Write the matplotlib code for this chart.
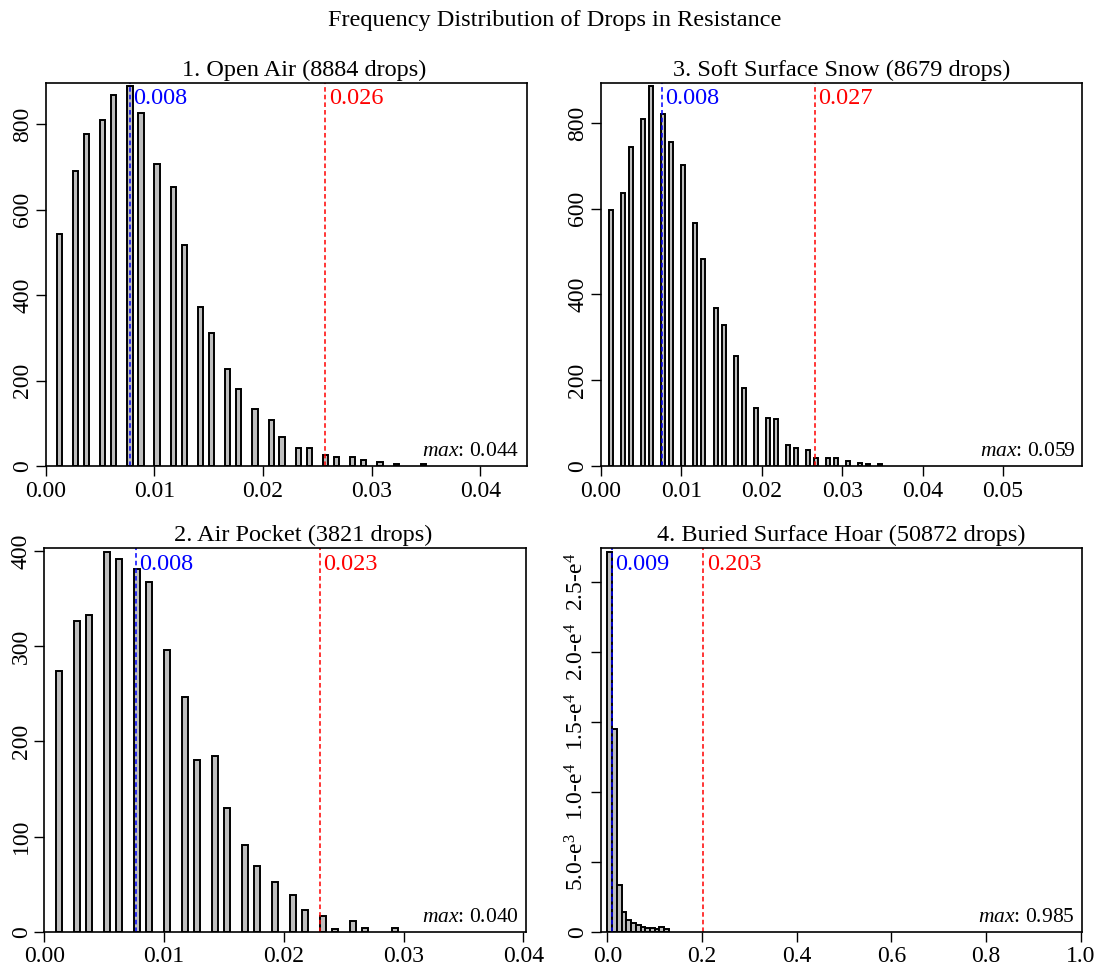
import matplotlib
matplotlib.use("Agg")
import matplotlib.pyplot as plt
import numpy as np

plt.rcParams['font.family'] = ['Liberation Serif', 'DejaVu Serif']
plt.rcParams['mathtext.fontset'] = 'custom'
plt.rcParams['mathtext.rm'] = 'Liberation Serif'
plt.rcParams['mathtext.it'] = 'Liberation Serif:italic'

# Panel 1: Open Air (bin centres, counts)
open_air_x = [0.00125, 0.00275, 0.00375, 0.00525, 0.00625, 0.00775, 0.00875,
              0.01025, 0.01175, 0.01275, 0.01425, 0.01525, 0.01675, 0.01775,
              0.01925, 0.02075, 0.02175, 0.02325, 0.02425, 0.02575, 0.02675,
              0.02825, 0.02925, 0.03075, 0.03225, 0.03475]
open_air_n = [543, 690, 777, 810, 867, 888, 827, 706, 653, 517, 373, 312, 228,
              181, 134, 108, 69, 43, 43, 25, 22, 20, 13, 10, 5, 5]

# Panel 2: Air Pocket
air_pocket_x = [0.00125, 0.00275, 0.00375, 0.00525, 0.00625, 0.00775, 0.00875,
                0.01025, 0.01175, 0.01275, 0.01425, 0.01525, 0.01675, 0.01775,
                0.01925, 0.02075, 0.02175, 0.02325, 0.02425, 0.02575, 0.02675,
                0.02925]
air_pocket_n = [274, 327, 333, 399, 392, 381, 368, 296, 247, 180, 185, 130, 91,
                69, 52, 39, 23, 16, 3, 11, 4, 4]

# Panel 3: Soft Surface Snow
soft_snow_x = [0.00125, 0.00275, 0.00375, 0.00525, 0.00625, 0.00775, 0.00875,
               0.01025, 0.01175, 0.01275, 0.01425, 0.01525, 0.01675, 0.01775,
               0.01925, 0.02075, 0.02175, 0.02325, 0.02425, 0.02575, 0.02675,
               0.02825, 0.02925, 0.03075, 0.03225, 0.03325, 0.03475]
soft_snow_n = [596, 637, 744, 809, 885, 821, 756, 702, 567, 482, 368, 328, 256,
               183, 136, 113, 109, 50, 41, 37, 19, 19, 19, 12, 6, 5, 5]

# Panel 4: Buried Surface Hoar (bins of 0.01)
hoar_x = [0.005, 0.015, 0.025, 0.035, 0.045, 0.055, 0.065, 0.075, 0.085,
          0.095, 0.105, 0.115, 0.125]
hoar_n = [27100, 14480, 3330, 1400, 830, 640, 480, 360, 290, 240, 220, 300, 180]

panels = [
    dict(title="1. Open Air (8884 drops)", x=open_air_x, n=open_air_n, w=0.0005,
         xlim=(0, 0.04425), xticks=[0, 0.01, 0.02, 0.03, 0.04], xfmt="%.2f",
         yticks=[0, 200, 400, 600, 800], ylabels=None, tx=0.537,
         med=0.00776, q=0.02573, vmax=0.044, pos=[0.0412, 0.5186, 0.4337, 0.396]),
    dict(title="3. Soft Surface Snow (8679 drops)", x=soft_snow_x, n=soft_snow_n, w=0.0005,
         xlim=(0, 0.0598), xticks=[0, 0.01, 0.02, 0.03, 0.04, 0.05], xfmt="%.2f",
         yticks=[0, 200, 400, 600, 800], ylabels=None, tx=0.5,
         med=0.0076, q=0.02658, vmax=0.059, pos=[0.5419, 0.5186, 0.4335, 0.396]),
    dict(title="2. Air Pocket (3821 drops)", x=air_pocket_x, n=air_pocket_n, w=0.0005,
         xlim=(0, 0.0402), xticks=[0, 0.01, 0.02, 0.03, 0.04], xfmt="%.2f",
         yticks=[0, 100, 200, 300, 400], ylabels=None, tx=0.537,
         med=0.00764, q=0.02303, vmax=0.040, pos=[0.0400, 0.0375, 0.4341, 0.396]),
    dict(title="4. Buried Surface Hoar (50872 drops)", x=hoar_x, n=hoar_n, w=0.01,
         xlim=(-0.0137, 1.0025), xticks=[0, 0.2, 0.4, 0.6, 0.8, 1.0], xfmt="%.1f",
         yticks=[0, 5000, 10000, 15000, 20000, 25000],
         ylabels=["0", "5.0-e$^{3}$", "1.0-e$^{4}$", "1.5-e$^{4}$", "2.0-e$^{4}$", "2.5-e$^{4}$"],
         tx=0.5, med=0.009, q=0.203, vmax=0.985, pos=[0.5419, 0.0375, 0.4335, 0.396]),
]

fig = plt.figure(figsize=(11.09, 9.68), dpi=100)
fig.suptitle("Frequency Distribution of Drops in Resistance", fontsize=17.5, y=0.99)

for p in panels:
    ax = fig.add_axes(p["pos"])
    ax.bar(p["x"], p["n"], width=p["w"], color="#bebebe", edgecolor="black", linewidth=1.4)
    ax.set_xlim(*p["xlim"])
    ax.set_ylim(0, max(p["n"]) * 1.01)
    ax.set_xticks(p["xticks"])
    ax.set_xticklabels([p["xfmt"] % t for t in p["xticks"]])
    ax.set_yticks(p["yticks"])
    if p["ylabels"]:
        ax.set_yticklabels(p["ylabels"], rotation=90, va="center")
    else:
        ax.set_yticklabels([str(t) for t in p["yticks"]], rotation=90, va="center")
    ax.tick_params(direction="out", length=7, width=1, labelsize=17)
    ax.tick_params(axis="y", pad=2)
    for s in ax.spines.values():
        s.set_linewidth(1.2)
    ax.set_title(p["title"], fontsize=17.5, pad=5, x=p["tx"])

    ax.axvline(p["med"], color="blue", linestyle=(0, (3, 2)), linewidth=1.1)
    ax.axvline(p["q"], color="red", linestyle=(0, (3, 2)), linewidth=1.1)
    span = p["xlim"][1] - p["xlim"][0]
    ax.text(p["med"] + span * 0.007, 0.985, "%.3f" % p["med"], color="blue", fontsize=17.5,
            transform=ax.get_xaxis_transform(), ha="left", va="top")
    ax.text(p["q"] + span * 0.007, 0.985, "%.3f" % p["q"], color="red", fontsize=17.5,
            transform=ax.get_xaxis_transform(), ha="left", va="top")
    ax.text(0.985, 0.012, r"$\mathit{max}$:" + " %.3f" % p["vmax"], fontsize=15.5,
            transform=ax.transAxes, ha="right", va="bottom")

plt.savefig("out.png", dpi=100)
